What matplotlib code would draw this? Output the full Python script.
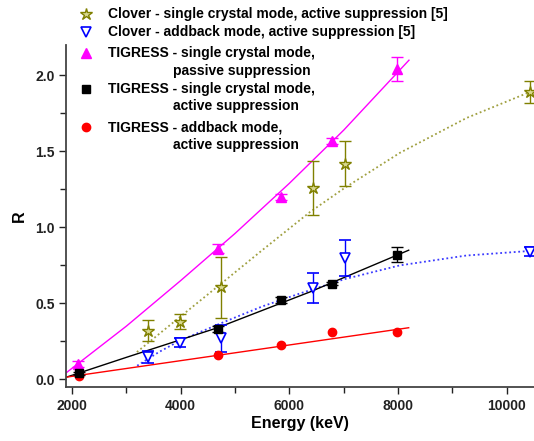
from matplotlib import pyplot as plt
import matplotlib.ticker as plticker
import numpy as np

plt.rcParams['font.family'] = ['Liberation Sans', 'DejaVu Sans']
plt.rcParams['font.weight'] = 'bold'

# TIGRESS single crystal, passive suppression
tig_pass_E = [2110, 4680, 5855, 6780, 7975]
tig_pass_R = [0.10, 0.86, 1.20, 1.57, 2.04]
tig_pass_err = [0.02, 0.03, 0.02, 0.02, 0.08]
tig_pass_fit_E = [1900, 3000, 4000, 5000, 6000, 7000, 8200]
tig_pass_fit_R = [0.045, 0.35, 0.65, 0.96, 1.29, 1.64, 2.10]

# Clover single crystal, active suppression [5]
clo_single_E = [3403, 3985, 4745, 6436, 7018, 10420]
clo_single_R = [0.32, 0.38, 0.605, 1.26, 1.42, 1.89]
clo_single_err = [0.07, 0.05, 0.20, 0.18, 0.15, 0.07]
clo_single_fit_E = [3195, 3985, 4745, 5500, 6375, 7018, 8030, 9260, 10420]
clo_single_fit_R = [0.18, 0.41, 0.63, 0.85, 1.10, 1.26, 1.49, 1.72, 1.89]

# Clover addback, active suppression [5]
clo_add_E = [3403, 3985, 4745, 6436, 7018, 10420]
clo_add_R = [0.147, 0.24, 0.27, 0.60, 0.80, 0.84]
clo_add_err = [0.04, 0.03, 0.09, 0.10, 0.12, 0.03]
clo_add_fit_E = [3200, 3600, 3985, 4745, 5500, 6191, 7018, 8030, 9255, 10420]
clo_add_fit_R = [0.09, 0.18, 0.255, 0.37, 0.48, 0.565, 0.66, 0.75, 0.815, 0.845]

# TIGRESS single crystal, active suppression
tig_act_E = [2130, 4680, 5840, 6785, 7975]
tig_act_R = [0.04, 0.33, 0.52, 0.63, 0.82]
tig_act_err = [0.01, 0.02, 0.02, 0.01, 0.05]
tig_act_fit_E = [1900, 3000, 4680, 6375, 8195]
tig_act_fit_R = [0.015, 0.145, 0.34, 0.575, 0.85]

# TIGRESS addback, active suppression
tig_add_E = [2130, 4680, 5840, 6785, 7975]
tig_add_R = [0.02, 0.16, 0.225, 0.31, 0.315]
tig_add_fit_E = [1900, 8195]
tig_add_fit_R = [0.015, 0.34]

fig = plt.figure(figsize=(5.34, 4.41), dpi=100)
ax = fig.add_axes([0.1245, 0.1224, 0.8755, 0.7756])

olive = '#808000'
blue = '#0000ff'
magenta = '#ff00ff'

# fit lines
ax.plot(tig_pass_fit_E, tig_pass_fit_R, color=magenta, lw=1)
ax.plot(clo_single_fit_E, clo_single_fit_R, color='#a0a040', lw=1.3, linestyle=(0, (1, 1.5)))
ax.plot(clo_add_fit_E, clo_add_fit_R, color='#3a3aff', lw=1.3, linestyle=(0, (1, 1.5)))
ax.plot(tig_act_fit_E, tig_act_fit_R, color='black', lw=1)
ax.plot(tig_add_fit_E, tig_add_fit_R, color='red', lw=1)

# data points
ax.errorbar(tig_pass_E, tig_pass_R, yerr=tig_pass_err, fmt='^', color=magenta, ms=7, capsize=4, elinewidth=1)
ax.errorbar(clo_single_E, clo_single_R, yerr=clo_single_err, fmt='*', color=olive, mfc='#d8d890', mec=olive,
            ms=9, capsize=4, elinewidth=1)
ax.errorbar(clo_add_E, clo_add_R, yerr=clo_add_err, fmt='v', color=blue, mfc='white', mec=blue, mew=1.2,
            ms=7, capsize=4, elinewidth=1)
ax.errorbar(tig_act_E, tig_act_R, yerr=tig_act_err, fmt='s', color='black', ms=6, capsize=4, elinewidth=1)
ax.plot(tig_add_E, tig_add_R, 'o', color='red', ms=6)

ax.set_xlim(1900, 10500)
ax.set_ylim(-0.05, 2.2)
ax.xaxis.set_major_locator(plticker.MultipleLocator(2000))
ax.xaxis.set_minor_locator(plticker.MultipleLocator(1000))
ax.yaxis.set_major_locator(plticker.MultipleLocator(0.5))
ax.yaxis.set_minor_locator(plticker.MultipleLocator(0.25))
ax.yaxis.set_major_formatter(plticker.FormatStrFormatter('%.1f'))
ax.spines['top'].set_visible(False)
ax.spines['right'].set_visible(False)
for s in ['left', 'bottom']:
    ax.spines[s].set_color('#444444')
    ax.spines[s].set_linewidth(1.3)
ax.tick_params(which='major', direction='out', length=5, width=1, colors='#222222', labelsize=10)
ax.tick_params(which='minor', direction='out', length=4, width=1, colors='#222222')
for lbl in ax.get_xticklabels() + ax.get_yticklabels():
    lbl.set_fontweight('bold')

ax.set_xlabel('Energy (keV)', fontsize=11.5, fontweight='bold', labelpad=2)
ax.set_ylabel('R', fontsize=11.5, fontweight='bold', labelpad=6)

# legend, drawn by hand to match the layout
W, H = 534.0, 441.0
leg = [
    ('*', dict(color=olive, mfc='#d8d890', mec=olive, ms=9), 14,
     'Clover - single crystal mode, active suppression [5]', None),
    ('v', dict(color=blue, mfc='white', mec=blue, mew=1.2, ms=7), 32,
     'Clover - addback mode, active suppression [5]', None),
    ('^', dict(color=magenta, ms=7), 53, 'TIGRESS - single crystal mode,', 'passive suppression'),
    ('s', dict(color='black', ms=6), 89, 'TIGRESS - single crystal mode,', 'active suppression'),
    ('o', dict(color='red', ms=6), 127, 'TIGRESS - addback mode,', 'active suppression'),
]
for mk, kw, y, t1, t2 in leg:
    ax.plot([86 / W], [1 - y / H], mk, transform=fig.transFigure, clip_on=False, **kw)
    fig.text(108 / W, 1 - y / H, t1, fontsize=10, fontweight='bold', va='center')
    if t2:
        fig.text(173 / W, 1 - (y + 17.5) / H, t2, fontsize=10, fontweight='bold', va='center')

plt.savefig('out.png', dpi=100)
